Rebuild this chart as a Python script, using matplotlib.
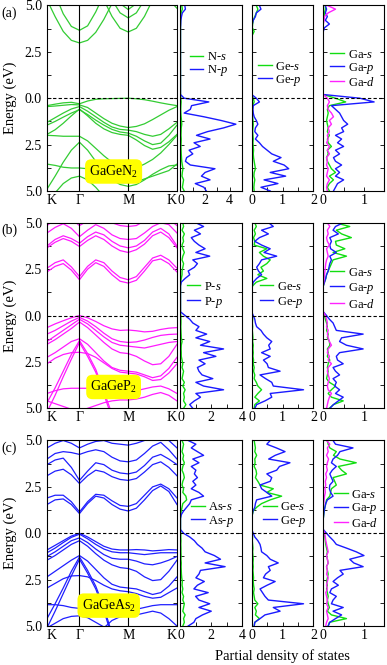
import matplotlib
matplotlib.use("Agg")
import matplotlib.pyplot as plt
import numpy as np
from matplotlib.ticker import FixedLocator, MultipleLocator

plt.rcParams["font.family"] = "Liberation Serif"
plt.rcParams["mathtext.fontset"] = "custom"
plt.rcParams["mathtext.rm"] = "Liberation Serif"
plt.rcParams["mathtext.it"] = "Liberation Serif:italic"

# ---- axes / labels ----
k_path = np.linspace(0, 4, 17)          # K .. Gamma(1) .. M(2.5) .. K(4)
k_ticks = [0, 1, 2.5, 4]
k_labels = ["K", "Γ", "M", "K"]
e_ticks = [-5, -2.5, 0, 2.5, 5]
e_tick_labels = ["5.0", "2.5", "0.0", "2.5", "5.0"]
energy = np.round(np.linspace(5, -5, 51), 2)   # PDOS sampling, top to bottom

row_tags = ["(a)", "(b)", "(c)"]
compounds = ["GaGeN$_2$", "GaGeP$_2$", "GaGeAs$_2$"]
anions = ["N", "P", "As"]
pdos1_xmax = [5, 4, 4]

# ---- band structures (eV at k_path) ----
gagen2_bands = [
    [5.3, 4.4, 3.6, 3.12, 2.98, 3.12, 3.55, 4.25, 5.1, 6.0, 6.0, 6.0, 6.0, 6.0, 6.0, 6.0, 6.0],
    [6.0, 5.6, 4.55, 3.87, 3.66, 3.90, 4.65, 5.6, 6.0, 6.0, 6.0, 6.0, 6.0, 6.0, 6.0, 6.0, 6.0],
    [6.0, 6.0, 6.0, 6.0, 6.0, 6.0, 6.0, 5.3, 4.41, 3.77, 3.57, 3.77, 4.41, 5.3, 6.0, 6.0, 6.0],
    [6.0, 6.0, 6.0, 6.0, 6.0, 6.0, 6.0, 6.0, 5.3, 4.6, 4.33, 4.6, 5.3, 6.0, 6.0, 6.0, 6.0],
    [6.0, 6.0, 6.0, 6.0, 6.0, 6.0, 6.0, 6.0, 5.8, 5.1, 4.78, 5.1, 5.8, 6.0, 6.0, 6.0, 6.0],
    [5.6, 6.0, 6.0, 6.0, 6.0, 6.0, 6.0, 6.0, 6.0, 6.0, 6.0, 6.0, 6.0, 6.0, 6.0, 5.3, 4.85],
    [-0.40, -0.32, -0.25, -0.22, -0.30, -0.15, -0.06, -0.03, -0.02, -0.01, 0.00, -0.03, -0.08, -0.16, -0.25, -0.33, -0.40],
    [-0.45, -0.42, -0.38, -0.34, -0.36, -0.50, -0.80, -1.10, -1.35, -1.50, -1.58, -1.52, -1.38, -1.15, -0.90, -0.65, -0.45],
    [-1.30, -1.05, -0.80, -0.58, -0.45, -0.70, -1.00, -1.30, -1.55, -1.68, -1.72, -1.80, -1.95, -2.05, -1.95, -1.65, -1.30],
    [-1.45, -1.25, -1.02, -0.80, -0.62, -0.88, -1.18, -1.45, -1.68, -1.82, -1.88, -2.05, -2.30, -2.50, -2.42, -2.00, -1.45],
    [-1.95, -1.70, -1.35, -0.95, -0.58, -0.95, -1.35, -1.65, -1.85, -1.95, -2.00, -2.25, -2.55, -2.75, -2.65, -2.35, -1.95],
    [-2.00, -2.02, -2.05, -2.05, -2.05, -2.30, -2.70, -3.10, -3.45, -3.70, -3.80, -3.75, -3.55, -3.30, -2.95, -2.50, -2.00],
    [-4.90, -4.20, -3.45, -2.80, -2.37, -2.80, -3.40, -3.95, -4.40, -4.65, -4.75, -4.65, -4.40, -4.10, -3.85, -3.65, -3.60],
    [-3.55, -3.62, -3.72, -3.76, -3.76, -3.80, -3.95, -4.20, -4.45, -4.55, -4.55, -4.50, -4.35, -4.20, -4.05, -3.90, -3.55],
    [-5.60, -5.10, -4.60, -4.30, -4.20, -4.40, -4.80, -5.30, -6.0, -6.0, -6.0, -6.0, -6.0, -6.0, -6.0, -6.0, -6.0],
]

gagep2_bands = [
    [2.35, 2.65, 2.80, 2.45, 1.93, 2.50, 2.85, 2.65, 2.20, 1.85, 1.75, 1.90, 2.40, 2.95, 3.05, 2.80, 2.35],
    [2.55, 2.85, 3.00, 2.62, 2.10, 2.65, 3.00, 2.85, 2.40, 2.05, 1.93, 2.10, 2.60, 3.10, 3.25, 3.00, 2.55],
    [3.65, 3.95, 4.15, 4.00, 3.72, 4.05, 4.30, 4.10, 3.75, 3.50, 3.40, 3.55, 3.85, 4.30, 4.50, 4.20, 3.65],
    [3.75, 4.10, 4.30, 4.15, 3.90, 4.25, 4.50, 4.35, 4.00, 3.75, 3.65, 3.75, 4.05, 4.50, 4.70, 4.40, 3.75],
    [4.45, 4.75, 4.95, 4.70, 4.25, 4.60, 4.90, 4.70, 4.35, 4.15, 4.10, 4.15, 4.45, 4.80, 5.00, 4.90, 4.45],
    [4.85, 5.20, 5.40, 5.20, 4.85, 5.10, 5.30, 5.30, 5.00, 4.85, 4.80, 4.85, 5.10, 5.40, 5.40, 5.20, 4.85],
    [-0.65, -0.45, -0.28, -0.12, 0.00, -0.12, -0.32, -0.55, -0.72, -0.80, -0.78, -0.82, -0.88, -0.85, -0.75, -0.68, -0.65],
    [-1.00, -0.80, -0.55, -0.30, -0.10, -0.30, -0.60, -0.95, -1.25, -1.40, -1.45, -1.42, -1.32, -1.18, -1.07, -1.02, -1.00],
    [-1.40, -1.10, -0.80, -0.50, -0.20, -0.45, -0.80, -1.15, -1.45, -1.60, -1.65, -1.70, -1.75, -1.65, -1.55, -1.45, -1.40],
    [-1.55, -1.30, -1.00, -0.70, -0.35, -0.65, -1.05, -1.45, -1.80, -2.00, -2.05, -2.20, -2.45, -2.65, -2.60, -2.20, -1.55],
    [-2.25, -2.00, -1.70, -1.40, -1.25, -1.55, -2.00, -2.45, -2.80, -2.95, -3.00, -3.05, -3.20, -3.35, -3.25, -2.85, -2.25],
    [-4.70, -3.90, -3.00, -2.10, -1.35, -2.05, -2.90, -4.10, -5.30, -6.0, -6.0, -6.0, -6.0, -6.0, -6.0, -6.0, -6.0],
    [-5.20, -4.30, -3.30, -2.35, -1.45, -2.20, -3.05, -4.25, -5.50, -6.0, -6.0, -6.0, -6.0, -6.0, -6.0, -6.0, -6.0],
    [-2.60, -2.30, -2.10, -2.00, -1.98, -2.05, -2.25, -2.55, -2.85, -3.05, -3.10, -3.15, -3.30, -3.50, -3.45, -3.10, -2.60],
    [-4.20, -4.05, -3.95, -3.92, -3.92, -3.92, -3.95, -4.00, -4.05, -4.10, -4.10, -4.05, -3.95, -3.85, -3.80, -3.95, -4.20],
    [-4.60, -4.75, -4.90, -5.05, -5.15, -5.00, -4.85, -4.70, -4.60, -4.55, -4.55, -4.50, -4.40, -4.25, -4.15, -4.30, -4.60],
]

gageas2_bands = [
    [1.55, 1.80, 1.85, 1.55, 1.06, 1.60, 2.00, 1.90, 1.55, 1.30, 1.20, 1.35, 1.80, 2.30, 2.55, 2.25, 1.55],
    [1.90, 2.05, 2.05, 1.70, 1.15, 1.70, 2.10, 2.05, 1.75, 1.50, 1.45, 1.60, 2.05, 2.50, 2.65, 2.40, 1.90],
    [3.10, 3.35, 3.45, 3.15, 2.68, 3.10, 3.40, 3.30, 3.05, 2.90, 2.85, 2.95, 3.30, 3.70, 3.85, 3.55, 3.10],
    [3.70, 3.95, 4.05, 3.55, 2.85, 3.35, 3.80, 3.70, 3.40, 3.25, 3.20, 3.30, 3.65, 4.10, 4.25, 4.00, 3.70],
    [4.00, 4.30, 4.40, 4.35, 4.25, 4.40, 4.50, 4.40, 4.10, 3.90, 3.85, 3.95, 4.30, 4.70, 4.90, 4.50, 4.00],
    [4.60, 4.85, 5.00, 4.85, 4.60, 4.80, 4.95, 5.00, 4.85, 4.80, 4.75, 4.85, 5.00, 5.30, 5.30, 5.00, 4.60],
    [-0.90, -0.65, -0.40, -0.15, 0.00, -0.20, -0.45, -0.70, -0.85, -0.90, -0.90, -0.88, -0.90, -0.95, -0.92, -0.88, -0.90],
    [-1.05, -0.80, -0.50, -0.22, -0.05, -0.30, -0.60, -0.85, -1.00, -1.05, -1.05, -1.10, -1.15, -1.10, -1.05, -1.05, -1.05],
    [-1.25, -1.00, -0.70, -0.40, -0.25, -0.50, -0.85, -1.15, -1.35, -1.40, -1.40, -1.50, -1.65, -1.70, -1.60, -1.45, -1.25],
    [-1.45, -1.20, -0.90, -0.60, -0.40, -0.70, -1.10, -1.45, -1.70, -1.85, -1.90, -2.05, -2.35, -2.55, -2.50, -2.05, -1.45],
    [-2.35, -2.05, -1.75, -1.45, -1.20, -1.50, -1.95, -2.40, -2.75, -2.90, -2.95, -3.00, -3.15, -3.30, -3.20, -2.85, -2.35],
    [-4.60, -3.80, -2.95, -2.05, -1.28, -2.00, -2.85, -4.00, -5.40, -6.0, -6.0, -6.0, -6.0, -6.0, -6.0, -6.0, -6.0],
    [-5.10, -4.20, -3.25, -2.30, -1.40, -2.15, -3.00, -4.15, -5.60, -6.0, -6.0, -6.0, -6.0, -6.0, -6.0, -6.0, -6.0],
    [-2.95, -2.70, -2.45, -2.30, -2.28, -2.35, -2.55, -2.80, -3.00, -3.10, -3.15, -3.25, -3.40, -3.50, -3.45, -3.20, -2.95],
    [-3.85, -3.85, -3.90, -4.00, -4.05, -4.05, -4.05, -4.10, -4.15, -4.15, -4.15, -4.10, -4.00, -3.90, -3.85, -3.85, -3.85],
    [-5.10, -4.85, -4.60, -4.48, -4.45, -4.55, -4.80, -5.05, -5.40, -6.0, -6.0, -6.0, -6.0, -6.0, -6.0, -6.0, -6.0],
    [-6.0, -6.0, -6.0, -6.0, -6.0, -6.0, -5.60, -5.10, -4.70, -4.50, -4.45, -4.40, -4.30, -4.20, -4.30, -4.60, -5.00],
]

# ---- partial DOS (states/eV at energy grid) ----
n_s_a = [0.10, 0.15, 0.05, 0.02, 0.01, 0, 0, 0, 0, 0, 0, 0, 0, 0, 0, 0, 0, 0, 0, 0, 0, 0, 0, 0, 0,
         0.03, 0.05, 0.03, 0.02, 0.03, 0.05, 0.08, 0.10, 0.06, 0.05, 0.04, 0.06, 0.05, 0.04, 0.05, 0.06, 0.08, 0.10, 0.15, 0.20, 0.15, 0.12, 0.25, 0.20, 0.15, 0.30]
n_p_a = [0.35, 0.40, 0.15, 0.08, 0.03, 0.02, 0, 0, 0, 0, 0, 0, 0, 0, 0, 0, 0, 0, 0, 0, 0, 0, 0, 0, 0,
         0.30, 2.30, 0.90, 0.80, 0.30, 1.90, 3.30, 4.50, 3.50, 2.20, 1.30, 2.40, 1.10, 1.60, 0.70, 1.00, 0.50, 0.40, 0.80, 2.80, 2.00, 1.70, 2.40, 1.20, 1.90, 2.10]
ge_s_a = [0.15, 0.20, 0.15, 0.10, 0.05, 0.03, 0.02, 0.08, 0.02, 0, 0, 0, 0, 0, 0, 0, 0, 0, 0, 0, 0, 0, 0, 0, 0,
          0.05, 0.08, 0.03, 0.02, 0.03, 0.03, 0.04, 0.05, 0.04, 0.03, 0.04, 0.05, 0.04, 0.05, 0.06, 0.05, 0.06, 0.08, 0.10, 0.12, 0.08, 0.07, 0.10, 0.08, 0.07, 0.08]
ge_p_a = [0.25, 0.30, 0.15, 0.12, 0.05, 0.02, 0, 0, 0, 0, 0, 0, 0, 0, 0, 0, 0, 0, 0, 0, 0, 0, 0, 0, 0,
          0.15, 0.25, 0.05, 0.04, 0.05, 0.08, 0.15, 0.20, 0.12, 0.10, 0.20, 0.12, 0.25, 0.35, 0.50, 0.65, 0.95, 0.70, 1.05, 1.20, 0.60, 1.10, 0.40, 0.85, 0.30, 0.60]
ga_s_a = [0.05, 0.05, 0.03, 0.02, 0, 0, 0, 0, 0, 0, 0, 0, 0, 0, 0, 0, 0, 0, 0, 0, 0, 0, 0, 0, 0,
          0.30, 0.55, 0.15, 0.10, 0.12, 0.10, 0.08, 0.10, 0.12, 0.10, 0.15, 0.10, 0.12, 0.20, 0.10, 0.12, 0.08, 0.10, 0.15, 0.20, 0.30, 0.15, 0.25, 0.15, 0.10, 0.15]
ga_p_a = [0.05, 0.08, 0.05, 0.10, 0.05, 0.15, 0.03, 0, 0, 0, 0, 0, 0, 0, 0, 0, 0, 0, 0, 0, 0, 0, 0, 0, 0,
          0.90, 1.25, 0.20, 0.30, 0.40, 0.45, 0.50, 0.60, 0.45, 0.50, 0.30, 0.45, 0.35, 0.50, 0.30, 0.40, 0.25, 0.30, 0.45, 0.30, 0.40, 0.30, 0.50, 0.35, 0.30, 0.25]
ga_d_a = [0.10, 0.30, 0.12, 0.03, 0.02, 0, 0, 0, 0, 0, 0, 0, 0, 0, 0, 0, 0, 0, 0, 0, 0, 0, 0, 0, 0,
          0.10, 0.15, 0.10, 0.12, 0.20, 0.25, 0.15, 0.20, 0.12, 0.15, 0.10, 0.12, 0.08, 0.15, 0.10, 0.15, 0.08, 0.10, 0.08, 0.12, 0.10, 0.08, 0.15, 0.10, 0.08, 0.10]

p_s_b = [0.15, 0.20, 0.10, 0.25, 0.15, 0.20, 0.10, 0.15, 0.25, 0.15, 0.10, 0.20, 0.15, 0.10, 0.10, 0.05, 0.02, 0, 0, 0, 0, 0, 0, 0, 0,
         0.02, 0.03, 0.03, 0.02, 0.03, 0.04, 0.05, 0.10, 0.05, 0.04, 0.05, 0.05, 0.10, 0.15, 0.10, 0.20, 0.15, 0.10, 0.25, 0.15, 0.30, 0.20, 0.25, 0.20, 0.35, 0.20]
p_p_b = [1.00, 1.50, 0.90, 1.30, 0.70, 0.90, 1.20, 1.60, 1.00, 1.90, 0.80, 1.10, 0.90, 0.50, 0.60, 0.30, 0.05, 0, 0, 0, 0, 0, 0, 0, 0,
         0.30, 0.60, 0.80, 1.20, 1.00, 1.70, 1.00, 1.90, 1.30, 2.80, 1.50, 2.30, 1.20, 1.60, 1.10, 1.20, 1.40, 2.10, 1.00, 1.50, 2.80, 1.00, 1.30, 0.90, 0.60, 0.80]
ge_s_b = [0.10, 0.15, 0.08, 0.12, 0.06, 0.10, 0.08, 0.49, 0.25, 0.38, 0.60, 0.49, 0.30, 0.38, 0.20, 0.49, 0.15, 0.03, 0, 0, 0, 0, 0, 0, 0,
          0.02, 0.03, 0.02, 0.03, 0.02, 0.03, 0.04, 0.03, 0.05, 0.04, 0.05, 0.04, 0.06, 0.05, 0.08, 0.06, 0.10, 0.08, 0.15, 0.20, 0.32, 0.20, 0.10, 0.25, 0.10, 0.08]
ge_p_b = [0.55, 0.70, 0.32, 0.54, 0.25, 0.10, 0.32, 0.60, 0.40, 0.81, 0.32, 0.25, 0.16, 0.22, 0.32, 0.16, 0.05, 0.02, 0, 0, 0, 0, 0, 0, 0,
          0.05, 0.10, 0.12, 0.16, 0.30, 0.38, 0.49, 0.65, 0.55, 0.60, 0.32, 0.60, 0.38, 0.50, 0.54, 0.92, 0.27, 0.45, 0.65, 0.70, 1.68, 0.60, 0.65, 0.43, 0.16, 0.10]
ga_s_b = [0.30, 0.65, 0.32, 0.45, 0.69, 0.30, 0.32, 0.53, 0.24, 0.57, 0.24, 0.20, 0.16, 0.12, 0.08, 0.06, 0.03, 0, 0, 0, 0, 0, 0, 0, 0,
          0.03, 0.05, 0.08, 0.10, 0.08, 0.12, 0.10, 0.15, 0.16, 0.10, 0.12, 0.10, 0.16, 0.12, 0.10, 0.12, 0.10, 0.08, 0.15, 0.30, 0.20, 0.12, 0.20, 0.49, 0.25, 0.15]
ga_p_b = [0.49, 0.30, 0.24, 0.37, 0.16, 0.20, 0.16, 0.18, 0.32, 0.16, 0.20, 0.16, 0.14, 0.12, 0.08, 0.06, 0.03, 0, 0, 0, 0, 0, 0, 0, 0,
          0.08, 0.15, 0.24, 0.28, 0.32, 0.98, 0.45, 0.40, 0.57, 0.98, 0.40, 0.32, 0.35, 0.49, 0.24, 0.30, 0.40, 0.24, 0.32, 0.28, 0.40, 0.30, 0.49, 0.37, 0.25, 0.16]
ga_d_b = [0.10, 0.16, 0.10, 0.12, 0.08, 0.10, 0.15, 0.08, 0.10, 0.12, 0.08, 0.06, 0.05, 0.04, 0.03, 0.02, 0.01, 0, 0, 0, 0, 0, 0, 0, 0,
          0.05, 0.08, 0.10, 0.08, 0.12, 0.10, 0.12, 0.15, 0.20, 0.12, 0.10, 0.15, 0.12, 0.20, 0.12, 0.10, 0.12, 0.15, 0.12, 0.10, 0.12, 0.20, 0.15, 0.12, 0.10, 0.08]

as_s_c = [0.10, 0.20, 0.15, 0.10, 0.20, 0.15, 0.25, 0.15, 0.10, 0.20, 0.25, 0.15, 0.10, 0.20, 0.15, 0.35, 0.40, 0.15, 0.10, 0.05, 0.02, 0, 0, 0, 0,
          0.02, 0.02, 0.03, 0.02, 0.03, 0.03, 0.04, 0.03, 0.05, 0.04, 0.05, 0.06, 0.08, 0.12, 0.10, 0.15, 0.10, 0.20, 0.15, 0.25, 0.20, 0.15, 0.30, 0.20, 0.25, 0.15]
as_p_c = [0.50, 1.00, 0.70, 1.10, 1.50, 0.80, 1.20, 0.70, 1.00, 0.90, 1.10, 0.80, 1.00, 0.70, 1.20, 1.50, 0.70, 0.60, 0.40, 0.20, 0.05, 0, 0, 0, 0,
          0.20, 0.60, 0.90, 1.10, 1.40, 1.60, 2.20, 2.60, 1.60, 2.90, 1.30, 1.20, 1.00, 1.55, 1.10, 0.87, 1.80, 0.98, 1.20, 1.90, 1.20, 2.00, 1.43, 1.00, 0.87, 0.50]
ge_s_c = [0.08, 0.10, 0.12, 0.10, 0.16, 0.10, 0.11, 0.08, 0.14, 0.16, 0.12, 0.20, 0.27, 0.70, 0.49, 0.97, 0.60, 0.32, 0.16, 0.05, 0.02, 0, 0, 0, 0,
          0.02, 0.03, 0.02, 0.03, 0.04, 0.03, 0.04, 0.05, 0.04, 0.05, 0.04, 0.05, 0.06, 0.05, 0.06, 0.08, 0.06, 0.08, 0.10, 0.20, 0.10, 0.15, 0.12, 0.25, 0.10, 0.08]
ge_p_c = [0.60, 0.49, 0.80, 1.08, 0.76, 0.55, 1.24, 0.90, 0.81, 0.49, 0.65, 0.60, 0.27, 0.32, 0.49, 0.65, 0.16, 0.12, 0.10, 0.04, 0.02, 0, 0, 0, 0,
          0.05, 0.10, 0.20, 0.27, 0.30, 0.32, 0.49, 0.60, 0.86, 0.54, 0.60, 0.45, 0.38, 0.76, 0.50, 0.27, 0.35, 0.43, 0.54, 1.68, 0.70, 0.92, 0.43, 0.27, 0.10, 0.08]
ga_s_c = [0.10, 0.12, 0.16, 0.32, 0.25, 0.41, 0.81, 0.37, 0.45, 0.57, 0.24, 0.28, 0.32, 0.20, 0.18, 0.16, 0.08, 0.06, 0.04, 0.02, 0.01, 0, 0, 0, 0,
          0.02, 0.04, 0.05, 0.06, 0.08, 0.10, 0.08, 0.10, 0.12, 0.08, 0.10, 0.12, 0.10, 0.08, 0.10, 0.08, 0.10, 0.12, 0.10, 0.12, 0.15, 0.10, 0.20, 0.57, 0.15, 0.12]
ga_p_c = [0.24, 0.30, 0.73, 0.41, 0.35, 0.24, 0.20, 0.32, 0.22, 0.16, 0.20, 0.24, 0.16, 0.15, 0.18, 0.24, 0.10, 0.06, 0.04, 0.02, 0.01, 0, 0, 0, 0,
          0.08, 0.16, 0.25, 0.32, 0.57, 0.81, 1.00, 0.65, 0.75, 0.98, 0.41, 0.49, 0.35, 0.24, 0.37, 0.20, 0.16, 0.32, 0.24, 0.20, 0.49, 0.24, 0.45, 0.30, 0.16, 0.12]
ga_d_c = [0.08, 0.16, 0.10, 0.12, 0.08, 0.13, 0.10, 0.08, 0.10, 0.06, 0.08, 0.05, 0.06, 0.04, 0.05, 0.03, 0.02, 0.01, 0, 0, 0, 0, 0, 0, 0,
          0.03, 0.05, 0.06, 0.08, 0.10, 0.12, 0.08, 0.10, 0.12, 0.08, 0.10, 0.08, 0.12, 0.10, 0.08, 0.10, 0.06, 0.08, 0.10, 0.08, 0.12, 0.08, 0.10, 0.12, 0.08, 0.06]

all_bands = [gagen2_bands, gagep2_bands, gageas2_bands]
anion_pdos = [(n_s_a, n_p_a), (p_s_b, p_p_b), (as_s_c, as_p_c)]
ge_pdos = [(ge_s_a, ge_p_a), (ge_s_b, ge_p_b), (ge_s_c, ge_p_c)]
ga_pdos = [(ga_s_a, ga_p_a, ga_d_a), (ga_s_b, ga_p_b, ga_d_b), (ga_s_c, ga_p_c, ga_d_c)]

# ---- style / layout ----
BAND_COLORS = ["#33cc33", "#ff1aff", "#1f1fff"]
S_COLOR, P_COLOR, D_COLOR = "#11dd11", "#1a1aff", "#ff22ff"
ROW_BOTTOM = [0.7128, 0.3860, 0.0586]
ROW_HEIGHT = 0.279
BAND_X, BAND_W = 0.1214, 0.3359
PDOS_X = [0.4664, 0.6504, 0.8354]
PDOS_W = [0.159, 0.1594, 0.1576]
LABEL_POS = [(2.05, -3.95), (2.05, -3.85), (1.9, -3.9)]
# legend anchors (axes fraction) per row, per pdos panel
LEG_ANCHOR = [
    [(0.15, 0.68), (0.10, 0.63), (0.11, 0.66)],
    [(0.10, 0.61), (0.13, 0.61), (0.11, 0.645)],
    [(0.17, 0.60), (0.18, 0.60), (0.175, 0.63)],
]
LEG_SPACING = [0.0, 0.15, 0.05]
FS = 10
ZERO_LS = (0, (3, 2))


def style_energy_axis(ax, labels):
    ax.set_ylim(-5, 5)
    ax.yaxis.set_major_locator(FixedLocator(e_ticks))
    ax.yaxis.set_minor_locator(MultipleLocator(1.25))
    if labels:
        ax.set_yticklabels(e_tick_labels)
    else:
        ax.set_yticklabels([])
    ax.tick_params(axis="y", which="both", direction="in", left=True, right=True,
                   length=3, width=0.6, labelsize=FS)
    for sp in ax.spines.values():
        sp.set_linewidth(0.8)
    ax.axhline(0, color="black", lw=0.8, ls=ZERO_LS, zorder=5)


fig = plt.figure(figsize=(3.87, 6.65), dpi=100)

for r in range(3):
    bottom = ROW_BOTTOM[r]

    # band structure
    axb = fig.add_axes([BAND_X, bottom, BAND_W, ROW_HEIGHT])
    for band in all_bands[r]:
        axb.plot(k_path, band, color=BAND_COLORS[r], lw=0.9)
    for kv in (1.0, 2.5):
        axb.axvline(kv, color="black", lw=0.8)
    axb.set_xlim(0, 4)
    axb.set_xticks(k_ticks)
    xt = axb.set_xticklabels(k_labels)
    xt[0].set_ha("left")
    xt[-1].set_ha("right")
    axb.tick_params(axis="x", length=0, labelsize=FS, pad=2)
    style_energy_axis(axb, True)
    lx, ly = LABEL_POS[r]
    axb.text(lx, ly, compounds[r], ha="center", va="center", fontsize=FS, zorder=6,
             bbox=dict(boxstyle="round,pad=0.3,rounding_size=0.45", fc="#ffff00", ec="none"))

    top = bottom + ROW_HEIGHT
    fig.text(0.004, top - 0.012, row_tags[r], fontsize=FS, va="center", ha="left")
    fig.text(0.026, bottom + ROW_HEIGHT / 2, "Energy (eV)", rotation=90,
             fontsize=FS + 0.5, va="center", ha="center")

    # partial DOS panels
    panels = [
        (anion_pdos[r], [anions[r] + "-$s$", anions[r] + "-$p$"], pdos1_xmax[r], 2),
        (ge_pdos[r], ["Ge-$s$", "Ge-$p$"], 2, 1),
        (ga_pdos[r], ["Ga-$s$", "Ga-$p$", "Ga-$d$"], 1.5, 1),
    ]
    for j, (curves, labels, xmax, major) in enumerate(panels):
        ax = fig.add_axes([PDOS_X[j], bottom, PDOS_W[j], ROW_HEIGHT])
        for vals, lab, col in zip(curves, labels, [S_COLOR, P_COLOR, D_COLOR]):
            ax.plot(vals, energy, color=col, lw=1.0, label=lab)
        ax.set_xlim(0, xmax)
        ax.xaxis.set_major_locator(MultipleLocator(major))
        ax.xaxis.set_minor_locator(MultipleLocator(major / 2))
        ax.tick_params(axis="x", which="both", direction="in", length=3, width=0.6,
                       labelsize=FS, pad=2)
        style_energy_axis(ax, False)
        ax.legend(loc="center left", bbox_to_anchor=LEG_ANCHOR[r][j], frameon=False,
                  fontsize=FS - 1, handlelength=1.1, handletextpad=0.3,
                  borderpad=0, borderaxespad=0, labelspacing=LEG_SPACING[r])

fig.text(0.729, 0.014, "Partial density of states", fontsize=FS + 0.5, ha="center", va="center")

fig.savefig("out.png", dpi=100)
plt.close(fig)
